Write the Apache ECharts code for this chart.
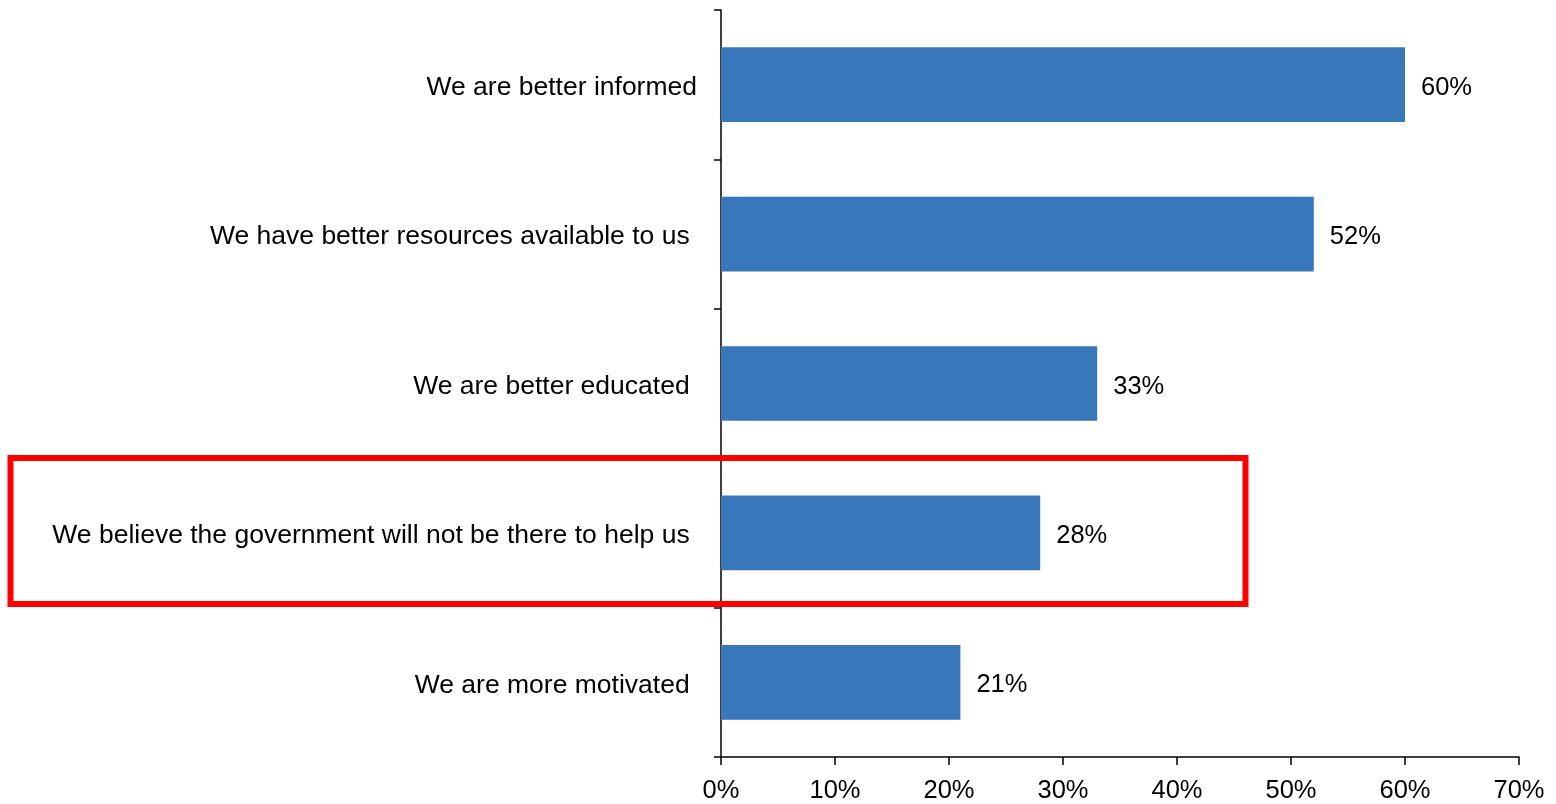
<!DOCTYPE html>
<html><head><meta charset="utf-8">
<script src="https://cdn.jsdelivr.net/npm/echarts@6/dist/echarts.min.js"></script>
<style>html,body{margin:0;padding:0;background:#fff}#c{width:1556px;height:804px}</style>
</head><body><div id="c"></div>
<script>
var categories = [
  'We are better informed',
  'We have better resources available to us ',
  'We are better educated ',
  'We believe the government will not be there to help us ',
  'We are more motivated '
];
var values = [60, 52, 33, 28, 21];
var xTicks = [0, 10, 20, 30, 40, 50, 60, 70];

var chart = echarts.init(document.getElementById('c'), null, {renderer: 'canvas'});
var font = 'Liberation Sans, Arial, sans-serif';
chart.setOption({
  animation: false,
  grid: {left: 721, right: 37, top: 10, bottom: 47, containLabel: false},
  xAxis: {
    type: 'value', min: xTicks[0], max: xTicks[xTicks.length - 1], interval: 10,
    splitLine: {show: false},
    axisLine: {show: true, lineStyle: {color: '#000', width: 1.5}},
    axisTick: {show: true, length: 8, lineStyle: {color: '#000', width: 1.5}},
    axisLabel: {formatter: '{value}%', color: '#000', fontSize: 25.5, fontFamily: font, margin: 21}
  },
  yAxis: {
    type: 'category', data: categories, inverse: true,
    axisLine: {show: true, lineStyle: {color: '#000', width: 1.5}},
    axisTick: {show: true, length: 7, alignWithLabel: false, lineStyle: {color: '#000', width: 1.5}},
    axisLabel: {
      color: '#000', fontSize: 26.5, fontFamily: font, margin: 24,
      formatter: function (v) { return '{a|' + v + '}'; },
      rich: {a: {color: '#000', fontSize: 26.5, fontFamily: font, padding: [6, 0, 0, 0]}}
    }
  },
  series: [{
    type: 'bar', data: values, barCategoryGap: '50%',
    itemStyle: {color: '#3877B9'},
    label: {show: true, position: 'right', distance: 16, offset: [0, 3], formatter: '{c}%', color: '#000', fontSize: 25.5, fontFamily: font}
  }],
  graphic: [{
    type: 'rect', z: 100,
    shape: {x: 10.5, y: 458, width: 1235, height: 146},
    style: {fill: 'none', stroke: '#FF0000', lineWidth: 6}
  }]
});
</script></body></html>
